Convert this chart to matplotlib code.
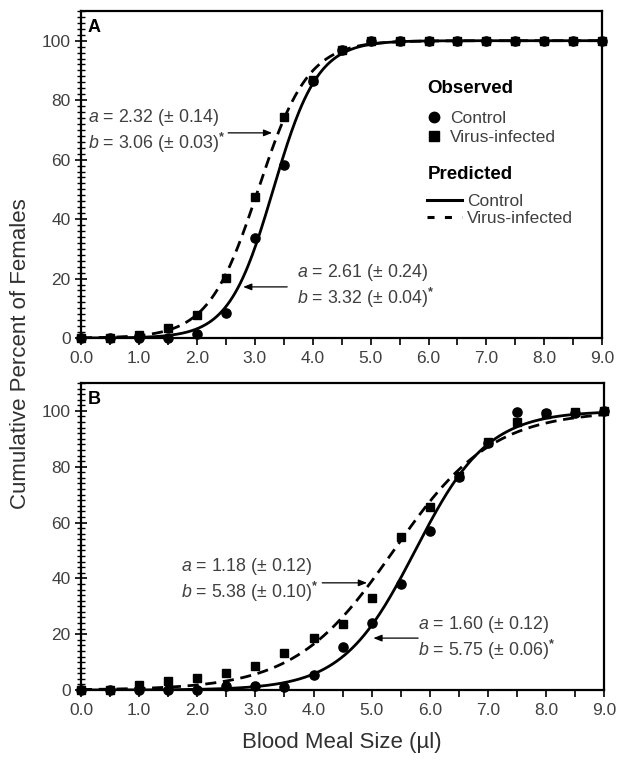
import numpy as np
import matplotlib
matplotlib.use("Agg")
import matplotlib.pyplot as plt
from matplotlib.lines import Line2D

plt.rcParams['font.family'] = ['Liberation Sans', 'DejaVu Sans']

# observed cumulative percent, x = blood meal size (ul)
meal = np.arange(0, 9.01, 0.5)

a_control = [0, 0, 0, 0, 1.5, 8.4, 33.7, 58.2, 86.5, 97, 100, 100, 100, 100, 100, 100, 100, 100, 100]
a_virus = [0, 0, 1, 3.4, 7.7, 20.2, 47.5, 74.4, 86.8, 97, 100, 100, 100, 100, 100, 100, 100, 100, 100]

b_control = [0, 0, 0, 0, 0, 1.4, 1.4, 1.2, 5.4, 15.4, 24, 38, 57, 76.3, 88.5, 99.6, 99.4, 99.3, 100]
b_virus = [0, 0, 1.8, 3.2, 4.2, 6.1, 8.7, 13.4, 18.6, 23.7, 33, 55, 65.6, 76.7, 89, 96, 99, 99.5, 100]

# fitted parameters (a, b) of the predicted curves
fit_a_control = (2.61, 3.32)
fit_a_virus = (2.32, 3.06)
fit_b_control = (1.60, 5.75)
fit_b_virus = (1.18, 5.38)

txt_a_virus = "$\\it{a}$ = 2.32 (± 0.14)\n$\\it{b}$ = 3.06 (± 0.03)$^{\\bf{*}}$"
txt_a_control = "$\\it{a}$ = 2.61 (± 0.24)\n$\\it{b}$ = 3.32 (± 0.04)$^{\\bf{*}}$"
txt_b_virus = "$\\it{a}$ = 1.18 (± 0.12)\n$\\it{b}$ = 5.38 (± 0.10)$^{\\bf{*}}$"
txt_b_control = "$\\it{a}$ = 1.60 (± 0.12)\n$\\it{b}$ = 5.75 (± 0.06)$^{\\bf{*}}$"

plt.rcParams['mathtext.fontset'] = 'custom'
plt.rcParams['mathtext.it'] = 'Liberation Sans:italic'
plt.rcParams['mathtext.rm'] = 'Liberation Sans'
plt.rcParams['mathtext.bf'] = 'Liberation Sans:bold'

GRAY = '#404040'


def logistic(x, p):
    a, b = p
    return 100.0 / (1.0 + np.exp(-a * (x - b)))


def setup(ax, label):
    ax.set_xlim(0, 9)
    ax.set_ylim(0, 110)
    ax.set_xticks(np.arange(0, 9.01, 1))
    ax.set_xticks(np.arange(0, 9.01, 0.5), minor=True)
    ax.set_xticklabels(["%.1f" % v for v in np.arange(0, 9.01, 1)])
    ax.set_yticks(np.arange(0, 101, 20))
    ax.set_yticks(np.arange(0, 111, 2), minor=True)
    ax.tick_params(axis='x', which='both', direction='out', length=5, width=1.2,
                   labelsize=12.5, labelcolor=GRAY, pad=4)
    ax.tick_params(axis='y', which='major', direction='inout', length=8, width=1.2,
                   labelsize=12.5, labelcolor=GRAY)
    ax.tick_params(axis='y', which='minor', direction='inout', length=6, width=1.0)
    for s in ax.spines.values():
        s.set_linewidth(1.6)
    ax.text(0.013, 0.975, label, transform=ax.transAxes, fontsize=13,
            fontweight='bold', va='top', ha='left')


fig = plt.figure(figsize=(6.28, 7.66), dpi=100)
ax1 = fig.add_axes([0.129, 0.5587, 0.830, 0.4270])
ax2 = fig.add_axes([0.129, 0.0992, 0.833, 0.4008])

xs = np.linspace(0, 9, 400)

for ax, ctl, vir, pc, pv, lab in [(ax1, a_control, a_virus, fit_a_control, fit_a_virus, 'A'),
                                   (ax2, b_control, b_virus, fit_b_control, fit_b_virus, 'B')]:
    setup(ax, lab)
    ax.plot(xs, logistic(xs, pc), color='black', lw=2.0, zorder=3)
    ax.plot(xs, logistic(xs, pv), color='black', lw=2.0, dashes=(4, 2.4), zorder=3)
    ax.plot(meal, ctl, 'o', color='black', ms=6.6, clip_on=False, zorder=4)
    ax.plot(meal, vir, 's', color='black', ms=6.4, clip_on=False, zorder=4)

ann = dict(fontsize=12.8, color=GRAY, linespacing=1.15, va='center')
arrow = dict(arrowstyle='-|>,head_length=0.5,head_width=0.2', color='black',
             lw=0.9, shrinkA=0, shrinkB=0)

ax1.text(0.12, 69.5, txt_a_virus, ha='left', **ann)
ax1.annotate('', xy=(3.30, 69), xytext=(2.54, 69), arrowprops=arrow)
ax1.text(3.73, 17.5, txt_a_control, ha='left', **ann)
ax1.annotate('', xy=(2.80, 17.2), xytext=(3.56, 17.2), arrowprops=arrow)

ax2.text(1.72, 39.3, txt_b_virus, ha='left', **ann)
ax2.annotate('', xy=(4.92, 38.4), xytext=(4.15, 38.4), arrowprops=arrow)
ax2.text(5.80, 18.7, txt_b_control, ha='left', **ann)
ax2.annotate('', xy=(5.03, 18.6), xytext=(5.80, 18.6), arrowprops=arrow)

# legends in panel A
obs_handles = [Line2D([], [], ls='none', marker='o', color='black', ms=7.5),
               Line2D([], [], ls='none', marker='s', color='black', ms=7)]
pred_handles = [Line2D([], [], color='black', lw=2.2),
                Line2D([], [], color='black', lw=2.2, dashes=(2.3, 3.4))]
leg1 = ax1.legend(obs_handles, ['Control', 'Virus-infected'], title='Observed',
                  loc='upper left', bbox_to_anchor=(0.648, 0.815), frameon=False,
                  fontsize=12.5, handlelength=0.8, handletextpad=0.5,
                  labelspacing=0.2, borderpad=0)
leg1.get_title().set_fontweight('bold')
leg1.get_title().set_fontsize(13.5)
leg1._legend_box.align = 'left'
leg1._legend_box.sep = 10
for t in leg1.get_texts():
    t.set_color(GRAY)
ax1.add_artist(leg1)
leg2 = ax1.legend(pred_handles, ['Control', 'Virus-infected'], title='Predicted',
                  loc='upper left', bbox_to_anchor=(0.648, 0.553), frameon=False,
                  fontsize=12.5, handlelength=2.0, handletextpad=0.3,
                  labelspacing=0.12, borderpad=0)
leg2.get_title().set_fontweight('bold')
leg2.get_title().set_fontsize(13.5)
leg2._legend_box.align = 'left'
leg2._legend_box.sep = 8
for t in leg2.get_texts():
    t.set_color(GRAY)

fig.text(0.032, 0.538, 'Cumulative Percent of Females', rotation=90,
         ha='center', va='center', fontsize=16, color='#303030')
fig.text(0.545, 0.031, 'Blood Meal Size (µl)', ha='center', va='center',
         fontsize=16, color='#303030')

fig.savefig('out.png', dpi=100)
